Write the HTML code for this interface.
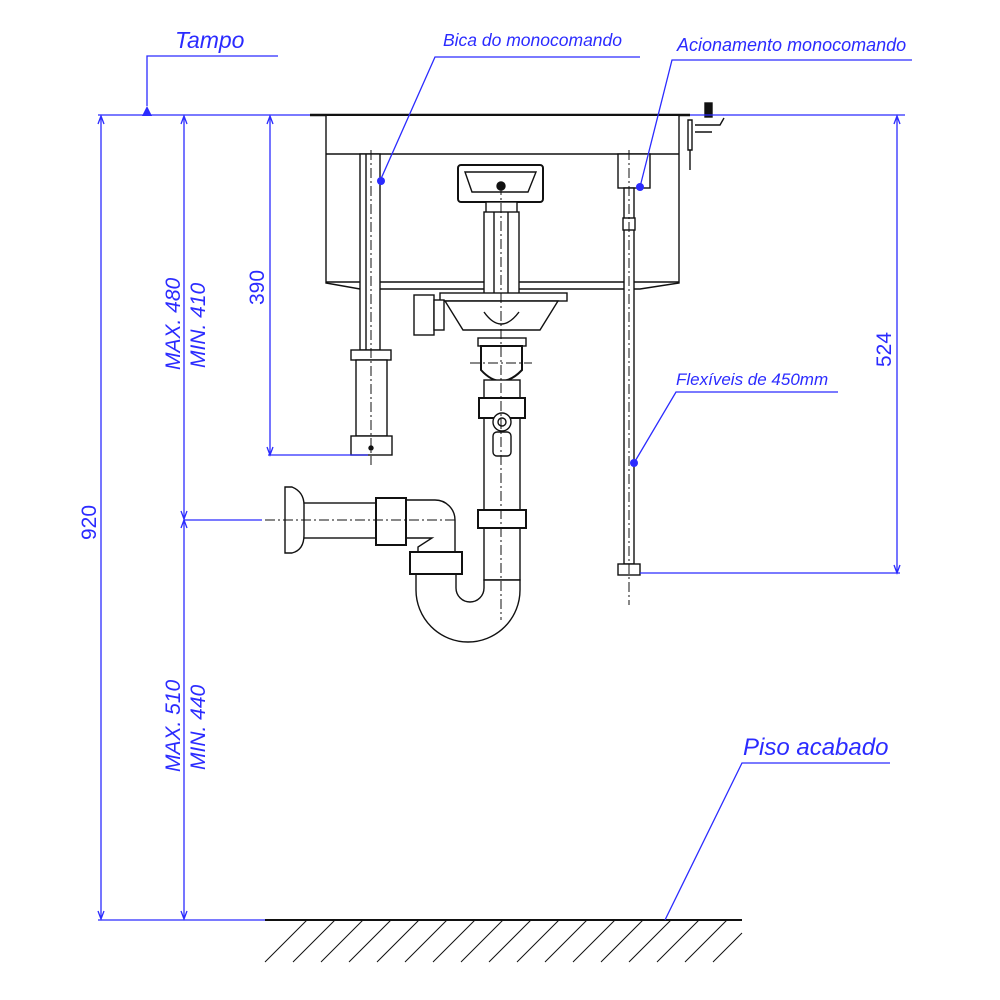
<!DOCTYPE html>
<html><head><meta charset="utf-8"><style>
html,body{margin:0;padding:0;background:#fff}
svg{display:block}
text{font-family:"Liberation Sans",sans-serif;font-style:italic;fill:#2b2bff}
</style></head><body>
<svg width="1000" height="1000" viewBox="0 0 1000 1000" xmlns="http://www.w3.org/2000/svg">
<!-- drawing -->
<g stroke="#111" stroke-width="1.4" fill="#fff">
<line x1="310" y1="115" x2="690" y2="115" stroke-width="2.5"/>
<path d="M326,116 L326,283 L360,289 L640,289 L679,283 L679,116"/>
<line x1="326" y1="154" x2="679" y2="154"/>
<line x1="326" y1="282" x2="679" y2="282"/>
<rect x="360" y="154" width="20" height="196"/>
<line x1="366" y1="154" x2="366" y2="350"/>
<rect x="351" y="350" width="40" height="10"/>
<rect x="356" y="360" width="31" height="76"/>
<rect x="351" y="436" width="41" height="19"/>
<circle cx="371" cy="448" r="2" fill="#111"/>
<rect x="618" y="154" width="32" height="34"/>
<rect x="624" y="188" width="10" height="376"/>
<rect x="623" y="218" width="12" height="12"/>
<rect x="618" y="564" width="22" height="11"/>
<path d="M688,120 L688,150 L692,150 L692,120 Z M690,150 L690,170"/>
<path d="M695,125 L720,125 L724,118 M695,132 L712,132" fill="none"/>
<rect x="705" y="103" width="7" height="14" fill="#111"/>
<rect x="458" y="165" width="85" height="37" rx="3" stroke-width="2"/>
<path d="M465,172 L536,172 L528,192 L472,192 Z"/>
<circle cx="501" cy="186" r="4" fill="#111"/>
<rect x="486" y="202" width="31" height="18"/>
<rect x="484" y="212" width="35" height="100"/>
<line x1="494" y1="212" x2="494" y2="310"/><line x1="508" y1="212" x2="508" y2="310"/>
<rect x="440" y="293" width="127" height="8"/>
<path d="M445,301 L558,301 L540,330 L463,330 Z"/>
<path d="M484,312 Q501,336 519,312" />
<rect x="414" y="295" width="20" height="40" fill="#fff"/>
<rect x="434" y="300" width="10" height="30"/>
<rect x="478" y="338" width="48" height="8"/>
<path d="M481,346 L481,370 Q501,392 522,370 L522,346 Z" stroke-width="2"/>
<rect x="484" y="380" width="36" height="200"/>
<rect x="479" y="398" width="46" height="20" stroke-width="2"/>
<circle cx="502" cy="422" r="9"/><circle cx="502" cy="422" r="4"/>
<rect x="493" y="432" width="18" height="24" rx="4"/>
<rect x="478" y="510" width="48" height="18" stroke-width="2"/>
<path d="M520,580 L520,590 A52,52 0 0 1 416,590 L416,574 L456,574 L456,588 A14,14 0 0 0 484,588 L484,580 Z"/>
<path d="M406,500 L435,500 A20,20 0 0 1 455,520 L455,552 L418,552 L418,547 L432,538 L406,538 Z"/>
<rect x="410" y="552" width="52" height="22" stroke-width="2"/>
<rect x="296" y="503" width="80" height="35"/>
<rect x="376" y="498" width="30" height="47" stroke-width="2"/>
<path d="M285,487 L292,487 Q304,492 304,505 L304,535 Q304,550 292,553 L285,553 Z"/>
</g>
<g stroke="#111" stroke-width="1" stroke-dasharray="10,3,2,3" fill="none">
<line x1="371" y1="150" x2="371" y2="465"/>
<line x1="629" y1="150" x2="629" y2="605"/>
<line x1="501" y1="185" x2="501" y2="620"/>
<line x1="265" y1="520" x2="455" y2="520"/>
<line x1="470" y1="363" x2="532" y2="363"/>
</g>
<line x1="265" y1="920" x2="742" y2="920" stroke="#111" stroke-width="2"/>
<g stroke="#111" stroke-width="1">
<path d="M265,962 L307,920 M293,962 L335,920 M321,962 L363,920 M349,962 L391,920 M377,962 L419,920 M405,962 L447,920 M433,962 L475,920 M461,962 L503,920 M489,962 L531,920 M517,962 L559,920 M545,962 L587,920 M573,962 L615,920 M601,962 L643,920 M629,962 L671,920 M657,962 L699,920 M685,962 L727,920 M713,962 L742,933"/>
</g>
<!-- blue annotations on top -->
<g stroke="#2b2bff" stroke-width="1.3" fill="none">
<line x1="98" y1="115" x2="310" y2="115"/>
<line x1="690" y1="115" x2="905" y2="115"/>
<polyline points="147,106 147,56 278,56"/>
<line x1="101" y1="117" x2="101" y2="918"/>
<path d="M98,124 L101,116 L104,124 M98,911 L101,919 L104,911"/>
<line x1="184" y1="117" x2="184" y2="918"/>
<path d="M181,124 L184,116 L187,124 M181,511 L184,519 L187,511 M181,911 L184,919 L187,911 M181,528 L184,520 L187,528"/>
<line x1="270" y1="117" x2="270" y2="455"/>
<path d="M267,124 L270,116 L273,124 M267,447 L270,455 L273,447"/>
<line x1="268" y1="455" x2="368" y2="455"/>
<line x1="184" y1="520" x2="262" y2="520"/>
<line x1="98" y1="920" x2="265" y2="920"/>
<line x1="897" y1="117" x2="897" y2="573"/>
<path d="M894,124 L897,116 L900,124 M894,565 L897,573 L900,565"/>
<line x1="640" y1="573" x2="900" y2="573"/>
<polyline points="640,57 435,57 380,181"/>
<polyline points="912,60 672,60 640,187"/>
<polyline points="838,392 676,392 634,463"/>
<polyline points="890,763 742,763 665,920"/>
</g>
<polygon points="142,116 147,106 152,116" fill="#2b2bff"/>
<g fill="#2b2bff"><circle cx="381" cy="181" r="4"/><circle cx="640" cy="187" r="4"/><circle cx="634" cy="463" r="4"/></g>
<text x="175" y="48" font-size="23">Tampo</text>
<text x="443" y="46" font-size="17.5">Bica do monocomando</text>
<text x="677" y="51" font-size="18">Acionamento monocomando</text>
<text x="676" y="385" font-size="17">Flexíveis de 450mm</text>
<text x="743" y="755" font-size="24">Piso acabado</text>
<text transform="translate(96,540) rotate(-90)" font-size="21" style="font-style:normal">920</text>
<text transform="translate(264,305) rotate(-90)" font-size="21" style="font-style:normal">390</text>
<text transform="translate(891,367) rotate(-90)" font-size="21" style="font-style:normal">524</text>
<g font-size="21">
<text transform="translate(180,370) rotate(-90)">MAX. 480</text>
<text transform="translate(205,368) rotate(-90)">MIN. 410</text>
<text transform="translate(180,772) rotate(-90)">MAX. 510</text>
<text transform="translate(205,770) rotate(-90)">MIN. 440</text>
</g>
</svg>
</body></html>
